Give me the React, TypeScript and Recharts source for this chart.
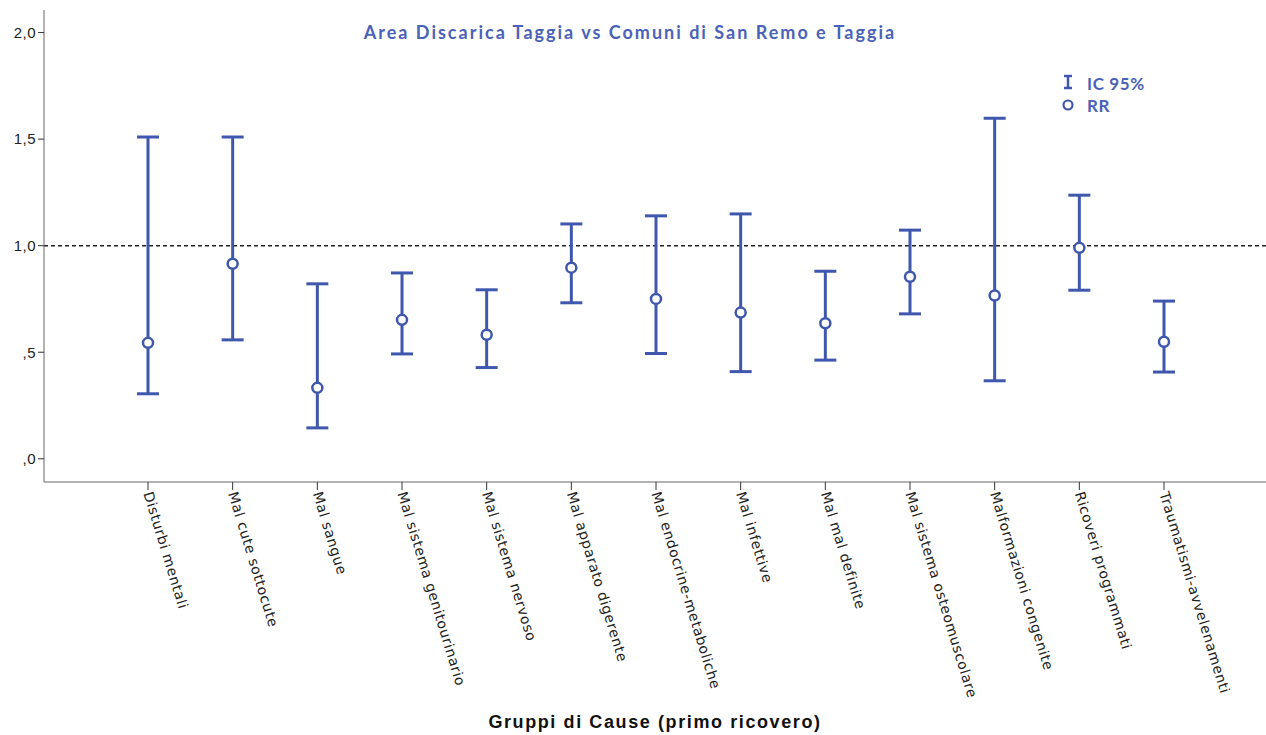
import React from 'react';
import { ComposedChart, Scatter, ErrorBar, XAxis, YAxis, ReferenceLine, Label } from 'recharts';

const categories = [
  'Disturbi mentali',
  'Mal cute sottocute',
  'Mal sangue',
  'Mal sistema genitourinario',
  'Mal sistema nervoso',
  'Mal apparato digerente',
  'Mal endocrine-metaboliche',
  'Mal infettive',
  'Mal mal definite',
  'Mal sistema osteomuscolare',
  'Malformazioni congenite',
  'Ricoveri programmati',
  'Traumatismi-avvelenamenti',
];
const rr = [0.544, 0.915, 0.333, 0.652, 0.582, 0.897, 0.75, 0.686, 0.636, 0.854, 0.766, 0.99, 0.549];
const lower = [0.305, 0.558, 0.145, 0.492, 0.428, 0.732, 0.494, 0.409, 0.463, 0.68, 0.366, 0.791, 0.407];
const upper = [1.51, 1.51, 0.821, 0.872, 0.793, 1.102, 1.14, 1.149, 0.88, 1.073, 1.598, 1.237, 0.74];
const yTicks = [0, 0.5, 1, 1.5, 2];

const BLUE = '#3F57AD';

const data = categories.map((name, i) => ({
  name,
  rr: rr[i],
  err: [rr[i] - lower[i], upper[i] - rr[i]],
}));

const fmtY = (v: number) => {
  const s = v.toFixed(1).replace('.', ',');
  return s.startsWith('0') ? s.slice(1) : s;
};

const CatTick = (props: any) => {
  const { x, y, payload } = props;
  return (
    <g transform={`translate(${x},${y})`}>
      <text
        transform="rotate(73)"
        x={0}
        y={0}
        dy="0.35em"
        textAnchor="start"
        fontSize={14}
        fontFamily="DejaVu Sans"
        letterSpacing={0.6}
        fill="#222"
      >
        {payload.value}
      </text>
    </g>
  );
};

const RRDot = (props: any) => {
  const { cx, cy } = props;
  return <circle cx={cx} cy={cy} r={5} fill="#fff" stroke={BLUE} strokeWidth={2.5} />;
};

export default function App() {
  return (
    <div style={{ position: 'absolute', left: 0, top: 0, width: 1266, height: 735, background: '#fff' }}>
      <ComposedChart width={1266} height={735} data={data} margin={{ top: 10, right: 0, bottom: 0, left: 0 }}>
        <XAxis
          dataKey="name"
          type="category"
          height={253}
          padding={{ left: 104, right: 102 }}
          interval={0}
          tick={<CatTick />}
          tickSize={8}
          stroke="#666"
          tickLine={{ stroke: '#333' }}
        >
          <Label
            value="Gruppi di Cause (primo ricovero)"
            position="insideBottom"
            offset={7}
            style={{ fontFamily: 'Liberation Sans', fontWeight: 'bold', fontSize: 18, letterSpacing: 1.6, fill: '#111' }}
          />
        </XAxis>
        <YAxis
          type="number"
          domain={[-0.109, 2.106]}
          ticks={yTicks}
          tickFormatter={fmtY}
          width={44}
          tickSize={6}
          stroke="#666"
          tickLine={{ stroke: '#333' }}
          tick={{ fontSize: 15, fontFamily: 'Liberation Sans', fill: '#222', letterSpacing: 0.5 }}
          allowDataOverflow
        />
        <ReferenceLine y={1} stroke="#222" strokeWidth={1.5} strokeDasharray="4 3" />
        <Scatter dataKey="rr" isAnimationActive={false} shape={<RRDot />}>
          <ErrorBar dataKey="err" direction="y" width={11} stroke={BLUE} strokeWidth={3} />
        </Scatter>
      </ComposedChart>
      <div
        style={{
          position: 'absolute',
          left: 0,
          width: 1260,
          top: 21,
          textAlign: 'center',
          fontFamily: 'Lato',
          fontWeight: 'bold',
          fontSize: 18,
          letterSpacing: 2,
          color: '#4A62B8',
        }}
      >
        Area Discarica Taggia vs Comuni di San Remo e Taggia
      </div>
      <svg style={{ position: 'absolute', left: 1058, top: 72 }} width={110} height={46}>
        <line x1={10} y1={4} x2={10} y2={16} stroke={BLUE} strokeWidth={2.5} />
        <line x1={6} y1={4} x2={14} y2={4} stroke={BLUE} strokeWidth={2.5} />
        <line x1={6} y1={16} x2={14} y2={16} stroke={BLUE} strokeWidth={2.5} />
        <circle cx={10} cy={33} r={4.5} fill="#fff" stroke={BLUE} strokeWidth={2.2} />
        <text x={29} y={18} fontFamily="Lato" fontWeight="bold" fontSize={17} letterSpacing={0.6} fill="#4A62B8">IC 95%</text>
        <text x={29} y={40} fontFamily="Lato" fontWeight="bold" fontSize={17} letterSpacing={0.6} fill="#4A62B8">RR</text>
      </svg>
    </div>
  );
}
